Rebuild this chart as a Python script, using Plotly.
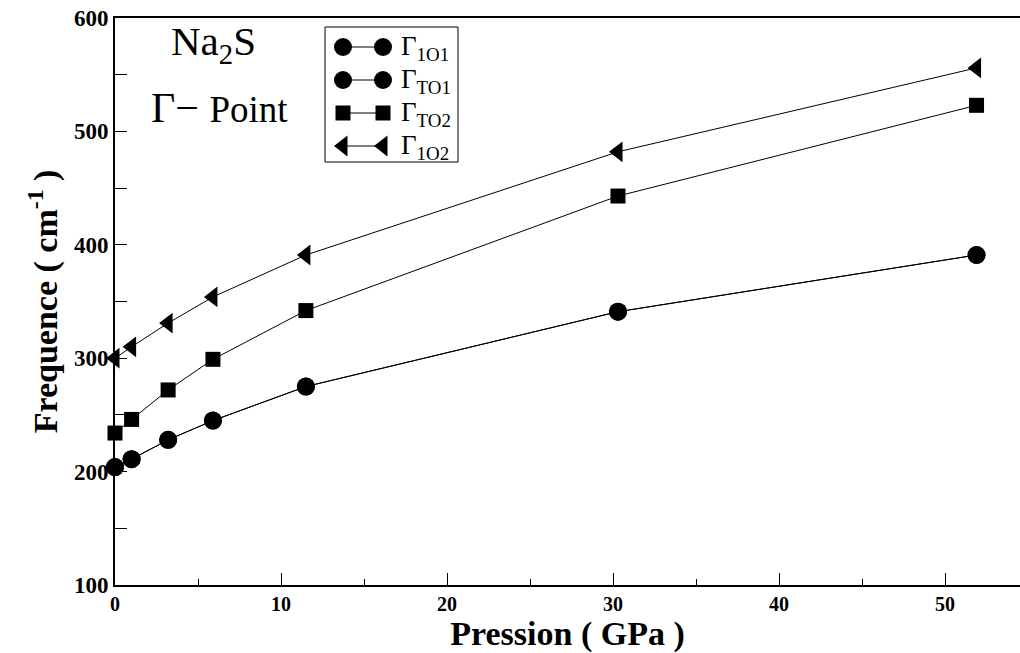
import plotly.graph_objects as go

pressure = [0, 1.0, 3.2, 5.9, 11.5, 30.3, 51.9]
gamma_1o1 = [204, 211, 228, 245, 275, 341, 391]
gamma_to1 = [204, 211, 228, 245, 275, 341, 391]
gamma_to2 = [234, 246, 272, 299, 342, 443, 523]
gamma_1o2 = [300, 310, 331, 354, 391, 482, 556]

series_names = ["Γ<sub>1O1</sub>", "Γ<sub>TO1</sub>", "Γ<sub>TO2</sub>", "Γ<sub>1O2</sub>"]
series_vals = [gamma_1o1, gamma_to1, gamma_to2, gamma_1o2]
symbols = ["circle", "circle", "square", "triangle-left"]
sizes = [18, 18, 15, 18]

FONT = "Liberation Serif"
W, H = 1020, 653
L, R, T, B = 115, 0, 18, 68
pw, ph = W - L - R, H - T - B

fig = go.Figure()
for name, vals, sym, sz in zip(series_names, series_vals, symbols, sizes):
    fig.add_trace(go.Scatter(
        x=pressure, y=vals, mode="lines+markers", name=name,
        line=dict(color="black", width=1),
        marker=dict(symbol=sym, size=sz, color="black"),
        showlegend=False, cliponaxis=False))

# custom legend drawn in pixel coordinates of the plot area (overlay axes)
leg_x0, leg_x1 = 325 - L, 458 - L
leg_rows = [47 - T, 80 - T, 113 - T, 146 - T]
for name, sym, sz, yy in zip(series_names, symbols, sizes, leg_rows):
    fig.add_trace(go.Scatter(
        x=[343 - L, 383 - L], y=[yy, yy], mode="lines+markers",
        line=dict(color="black", width=1),
        marker=dict(symbol=sym, size=sz, color="black"),
        xaxis="x2", yaxis="y2", showlegend=False, hoverinfo="skip"))
    fig.add_annotation(x=399 - L, y=yy + 1, xref="x2", yref="y2", text=name,
                       showarrow=False, xanchor="left", yanchor="middle",
                       font=dict(family=FONT, size=27, color="black"))
fig.add_shape(type="rect", xref="x2", yref="y2", x0=leg_x0, x1=leg_x1,
              y0=27 - T, y1=162 - T, line=dict(color="black", width=1))

fig.add_annotation(x=213 - L, y=44 - T, xref="x2", yref="y2", text="Na<sub>2</sub>S",
                   showarrow=False, xanchor="center", yanchor="middle",
                   font=dict(family=FONT, size=41, color="black"))
fig.add_annotation(x=219 - L, y=108 - T, xref="x2", yref="y2",
                   text="Γ− <span style='font-size:37px'>Point</span>",
                   showarrow=False, xanchor="center", yanchor="middle",
                   font=dict(family=FONT, size=42, color="black"))

fig.update_layout(
    width=W, height=H, margin=dict(l=L, r=R, t=T, b=B),
    plot_bgcolor="white", paper_bgcolor="white",
    xaxis=dict(range=[0, (W - L) / 16.6], showgrid=False, zeroline=False,
               showline=True, linecolor="black", linewidth=2, mirror=True,
               ticks="inside", ticklen=12, tickwidth=1, tickcolor="black",
               tickvals=[0, 10, 20, 30, 40, 50],
               ticktext=["<b>%d</b>" % v for v in [0, 10, 20, 30, 40, 50]],
               minor=dict(tickvals=[5, 15, 25, 35, 45], ticks="inside", ticklen=6, tickcolor="black"),
               tickfont=dict(family=FONT, size=20, color="black"),
               title=dict(text="<b>Pression ( GPa )</b>", font=dict(family=FONT, size=34, color="black"), standoff=0)),
    yaxis=dict(range=[100, 600], showgrid=False, zeroline=False,
               showline=True, linecolor="black", linewidth=2,
               ticks="inside", ticklen=12, tickwidth=1, tickcolor="black",
               tickvals=[100, 200, 300, 400, 500, 600],
               ticktext=["<b>%d</b>" % v for v in [100, 200, 300, 400, 500, 600]],
               minor=dict(tickvals=[150, 250, 350, 450, 550], ticks="inside", ticklen=12, tickcolor="black"),
               tickfont=dict(family=FONT, size=23, color="black"),
               title=dict(text="<b>Frequence ( cm<sup>-1</sup> )</b>", font=dict(family=FONT, size=34, color="black"), standoff=6)),
    xaxis2=dict(overlaying="x", range=[0, pw], visible=False, fixedrange=True),
    yaxis2=dict(overlaying="y", range=[ph, 0], visible=False, fixedrange=True),
    showlegend=False,
)

fig.write_html("out.html")
